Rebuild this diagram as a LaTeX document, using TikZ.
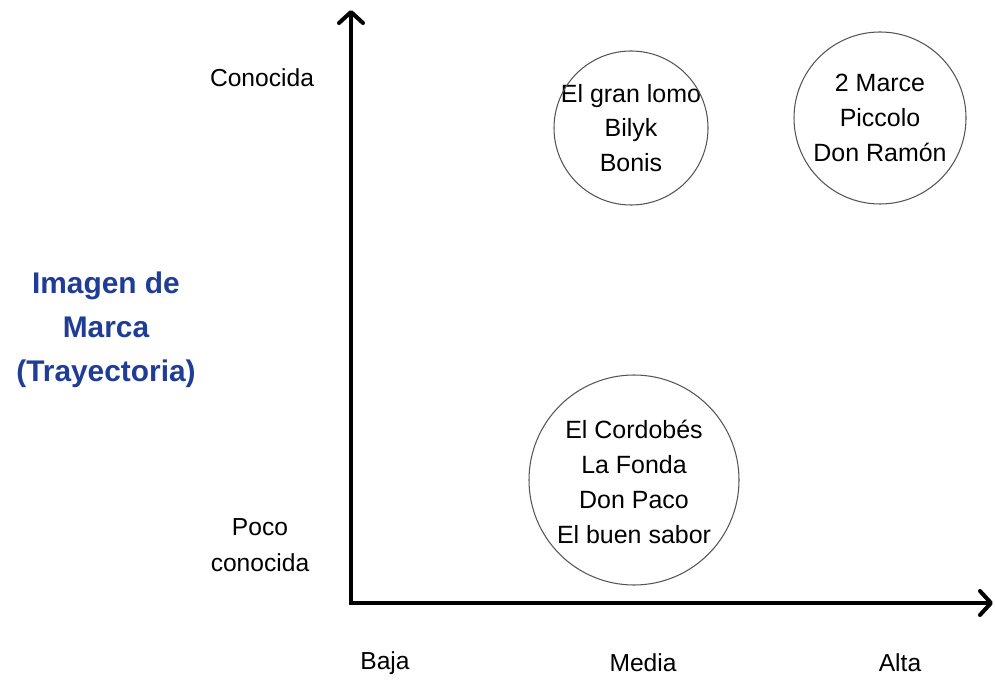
\documentclass[tikz,border=0pt]{standalone}
\usepackage{fontspec}
\setmainfont{Liberation Sans}
\usetikzlibrary{arrows.meta}
\definecolor{titleblue}{HTML}{1F3C96}
\definecolor{ringgray}{HTML}{555555}
\begin{document}
\begin{tikzpicture}[
  axis/.style={line width=2.3pt, line join=miter,
    {Straight Barb[length=2.2mm,width=4.8mm,line cap=round,line join=round]}-{Straight Barb[length=2.2mm,width=4.8mm,line cap=round,line join=round]}},
  ringtext/.style={align=center, inner sep=0pt, font=\fontsize{14.2}{19.8}\selectfont},
  ringline/.style={draw=ringgray, line width=0.6pt},
  lab/.style={align=center, inner sep=0pt, font=\fontsize{14}{20.5}\selectfont},
  ttl/.style={align=center, inner sep=0pt, text=titleblue, font=\bfseries\fontsize{17}{25}\selectfont}
]
\useasboundingbox (0,0) rectangle (19.9,13.62);
\coordinate (O) at (7.02,1.56);
\coordinate (ytip) at (7.02,13.42);
\coordinate (xtip) at (19.86,1.56);
\draw[axis] (ytip) -- (O) -- (xtip);

\node[ringtext] (c1) at (12.62,11.06) {El gran lomo\\Bilyk\\Bonis};
\node[ringtext] (c2) at (17.6,11.26) {2 Marce\\Piccolo\\Don Ramón};
\node[ringtext] (c3) at (12.68,3.98) {El Cordobés\\La Fonda\\Don Paco\\El buen sabor};
\draw[ringline] (c1.center) circle[radius=1.54cm];
\draw[ringline] (c2.center) circle[radius=1.72cm];
\draw[ringline] (c3.center) ++(0,0.04) circle[radius=2.1cm];

\node[lab] (conocida) at (5.24,12.06) {Conocida};
\node[lab] (poco) at (5.2,2.71) {Poco\\conocida};
\node[lab] (baja) at (7.7,0.36) {Baja};
\node[lab] (media) at (12.86,0.36) {Media};
\node[lab] (alta) at (18.0,0.36) {Alta};

\node[ttl] (titulo) at (2.12,7.03) {Imagen de\\Marca\\(Trayectoria)};
\end{tikzpicture}
\end{document}
